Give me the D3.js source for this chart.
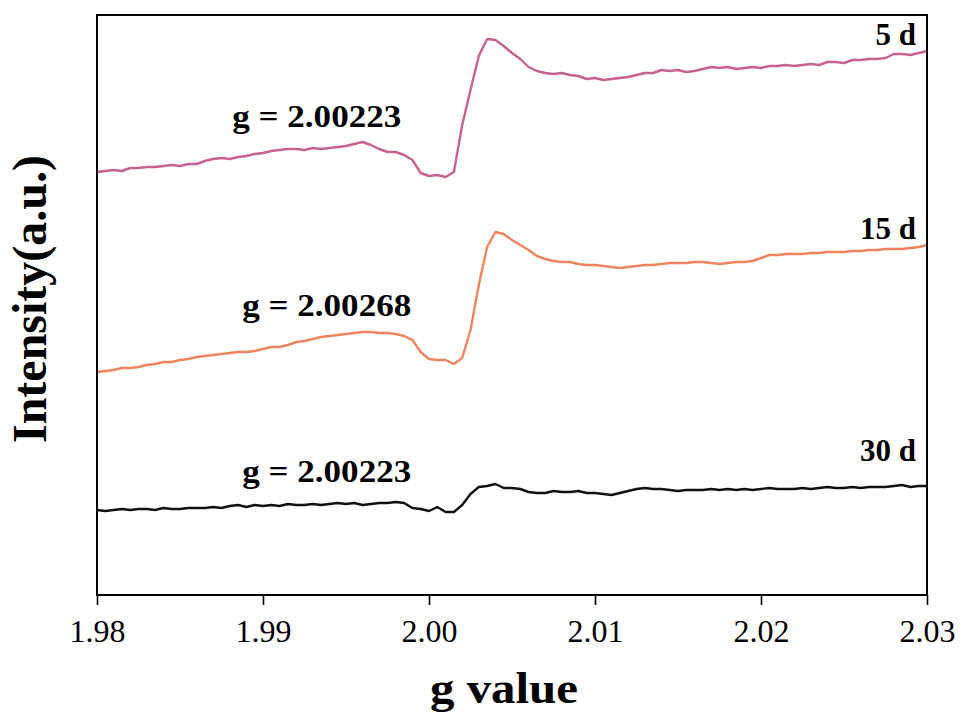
<!DOCTYPE html>
<html>
<head>
<meta charset="utf-8">
<script src="https://d3js.org/d3.v7.min.js"></script>
<style>
  body { margin: 0; background: #fff; }
  #chart { display: block; }
  text { font-family: "Liberation Serif", "Times New Roman", serif; fill: #000; }
  .axis text { font-size: 32px; }
  .axis line { stroke: #000; stroke-width: 1.6px; }
  .bold { font-weight: bold; }
  .line { fill: none; stroke-width: 2.4px; stroke-linejoin: round; }
</style>
</head>
<body>
<svg id="chart"></svg>
<script>
// g-value sample grid (step 0.0005)
var gValues = [
  1.9800,1.9805,1.9810,1.9815,1.9820,1.9825,1.9830,1.9835,1.9840,1.9845,
  1.9850,1.9855,1.9860,1.9865,1.9870,1.9875,1.9880,1.9885,1.9890,1.9895,
  1.9900,1.9905,1.9910,1.9915,1.9920,1.9925,1.9930,1.9935,1.9940,1.9945,
  1.9950,1.9955,1.9960,1.9965,1.9970,1.9975,1.9980,1.9985,1.9990,1.9995,
  2.0000,2.0005,2.0010,2.0015,2.0020,2.0025,2.0030,2.0035,2.0040,2.0045,
  2.0050,2.0055,2.0060,2.0065,2.0070,2.0075,2.0080,2.0085,2.0090,2.0095,
  2.0100,2.0105,2.0110,2.0115,2.0120,2.0125,2.0130,2.0135,2.0140,2.0145,
  2.0150,2.0155,2.0160,2.0165,2.0170,2.0175,2.0180,2.0185,2.0190,2.0195,
  2.0200,2.0205,2.0210,2.0215,2.0220,2.0225,2.0230,2.0235,2.0240,2.0245,
  2.0250,2.0255,2.0260,2.0265,2.0270,2.0275,2.0280,2.0285,2.0290,2.0295,
  2.0300
];

// intensities (a.u., curves offset as in the figure)
var day5 = [
  423,424,425,424,427,427,428,428,429,430,
  429,431,431,434,436,437,436,438,439,441,
  442,444,445,446,446,445,447,446,447,448,
  449,451,453,450,446,443,443,440,435,422,
  419,420,418,423,470,505,539,556,555,549,
  542,536,528,524,522,521,522,520,519,516,
  517,515,516,517,518,520,522,522,525,524,
  525,523,524,526,528,527,528,526,527,528,
  527,529,529,530,529,530,531,530,533,533,
  532,535,535,536,536,537,541,541,540,542,
  544
];
var day15 = [
  223,224,225,227,227,228,230,231,233,233,
  235,236,238,239,240,241,242,243,243,244,
  246,248,248,250,253,254,256,258,259,260,
  261,262,263,263,262,262,261,259,255,243,
  236,235,235,231,237,265,310,348,363,361,
  355,350,345,339,336,334,333,333,331,330,
  330,329,328,327,328,329,330,330,331,332,
  332,332,333,333,332,331,332,333,333,334,
  337,340,340,341,341,341,342,342,343,343,
  343,344,344,345,345,346,346,346,347,348,
  350
];
var day30 = [
  85,84,85,86,85,86,86,85,87,86,
  86,87,87,87,88,87,89,90,88,90,
  89,90,89,91,90,90,91,90,91,92,
  91,92,90,91,92,92,93,92,87,86,
  84,88,83,83,90,101,108,109,111,107,
  107,106,103,102,102,104,103,103,104,102,
  102,101,100,102,104,106,107,106,106,105,
  104,105,105,105,106,105,106,105,106,105,
  106,107,106,106,106,107,106,107,108,107,
  107,108,107,108,108,108,109,110,108,109,
  109
];

var seriesNames = ["5 d", "15 d", "30 d"];
var seriesColors = ["#c8628f", "#f0845f", "#111111"];
var gLabels = ["g = 2.00223", "g = 2.00268", "g = 2.00223"];
var xTicks = [1.98, 1.99, 2.00, 2.01, 2.02, 2.03];

var W = 960, H = 713;
var margin = {top: 15, right: 33, bottom: 118, left: 97},
    width = W - margin.left - margin.right,
    height = H - margin.top - margin.bottom;

var svg = d3.select("#chart").attr("width", W).attr("height", H);
var g = svg.append("g")
    .attr("transform", "translate(" + margin.left + "," + margin.top + ")");

var x = d3.scaleLinear().domain([1.98, 2.03]).range([0, width]);
var y = d3.scaleLinear().domain([0, 580]).range([height, 0]);

// series lines
var line = d3.line()
    .x((d, i) => x(gValues[i]))
    .y(d => y(d));

[day5, day15, day30].forEach((s, k) => {
  g.append("path")
      .datum(s)
      .attr("class", "line")
      .attr("stroke", seriesColors[k])
      .attr("d", line);
});

// x axis
var xAxis = g.append("g")
    .attr("class", "axis")
    .attr("transform", "translate(0," + height + ")")
    .call(d3.axisBottom(x).tickValues(xTicks).tickFormat(d3.format(".2f"))
      .tickSize(10).tickSizeOuter(0).tickPadding(14));
xAxis.select(".domain").remove();
xAxis.selectAll("text").attr("fill", "#000");

// frame
g.append("rect")
    .attr("x", 0).attr("y", 0)
    .attr("width", width).attr("height", height)
    .attr("fill", "none").attr("stroke", "#000").attr("stroke-width", 2);

// series name labels (right side)
var nameY = [45, 239, 461];
seriesNames.forEach((n, k) => {
  g.append("text")
      .attr("class", "bold")
      .attr("x", x(2.03) - 11)
      .attr("y", nameY[k] - margin.top)
      .attr("text-anchor", "end")
      .style("font-size", "31px")
      .text(n);
});

// g-factor annotations
var gLabelPos = [[1.98815, 127], [1.98875, 316], [1.98875, 482]];
gLabels.forEach((t, k) => {
  g.append("text")
      .attr("class", "bold")
      .attr("x", x(gLabelPos[k][0]))
      .attr("y", gLabelPos[k][1] - margin.top)
      .attr("textLength", 169)
      .attr("lengthAdjust", "spacingAndGlyphs")
      .style("font-size", "32px")
      .text(t);
});

// axis titles
svg.append("text")
    .attr("class", "bold")
    .attr("x", 504)
    .attr("y", 703)
    .attr("text-anchor", "middle")
    .attr("textLength", 148)
    .attr("lengthAdjust", "spacingAndGlyphs")
    .style("font-size", "45px")
    .text("g value");

svg.append("text")
    .attr("class", "bold")
    .attr("transform", "translate(46,299) rotate(-90)")
    .attr("text-anchor", "middle")
    .style("font-size", "48px")
    .text("Intensity(a.u.)");
</script>
</body>
</html>
